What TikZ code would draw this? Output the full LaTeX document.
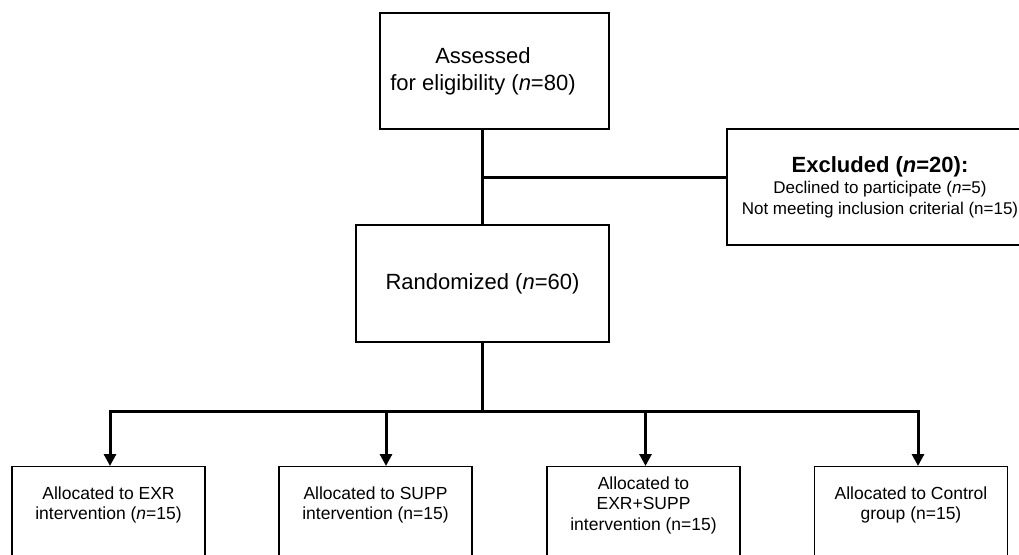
\documentclass[tikz,border=0pt]{standalone}
\usepackage{fontspec}
\setmainfont{Liberation Sans}
\usetikzlibrary{arrows.meta,positioning}

\begin{document}
\begin{tikzpicture}[x=1pt, y=-1pt,
        box/.style={rectangle, draw, line width=1.2pt, inner sep=0pt},
        lowbox/.style={box, minimum width=193pt, minimum height=130pt, anchor=north},
        lowtext/.style={font=\fontsize{17.5}{20.5}\selectfont, align=center, anchor=center, yshift=-39pt},
        mainfont/.style={font=\fontsize{22}{27}\selectfont},
        smallfont/.style={font=\fontsize{17}{21}\selectfont},
        flow/.style={line width=3pt},
        flowarrow/.style={flow, -{Triangle[length=12pt,width=12pt]}}]
        \useasboundingbox (0,0) rectangle (1019,554);

        % screening
        \node [box, minimum width=229pt, minimum height=116pt, label={[mainfont, align=center, xshift=-11.5pt]center:Assessed\\for eligibility (\textit{n}=80)}] (assess) at (494.5,71) {};
        \node [box, minimum width=306pt, minimum height=116pt, smallfont, align=center] (excl) at (880,187) {{\fontsize{22}{26}\selectfont\bfseries Excluded (\textit{n}=20):}\\Declined to participate (\textit{n}=5)\\Not meeting inclusion criterial (n=15)};
        \node [box, minimum width=253pt, minimum height=117pt, mainfont] (rand) at (482.5,283.5) {Randomized (\textit{n}=60)};

        % allocation
        \node [lowbox, label={[lowtext]north:Allocated to EXR\\intervention (\textit{n}=15)}] (exr) at (108.5,466) {};
        \node [lowbox, label={[lowtext]north:Allocated to SUPP\\intervention (n=15)}] (supp) at (375.5,466) {};
        \node [lowbox, label={[lowtext]north:Allocated to\\EXR+SUPP\\intervention (n=15)}] (both) at (643.5,466) {};
        \node [lowbox, label={[lowtext]north:Allocated to Control\\group (n=15)}] (ctrl) at (911,466) {};

        \coordinate (split) at (483,177);
        \draw [flow] (assess.south -| rand.north) -- (rand.north);
        \draw [flow] (split) -- (split -| excl.west);

        \foreach \name/\x in {exr/110, supp/386, both/645.5, ctrl/918} {
            \coordinate (drop-\name) at (\x,411);
            \draw [flowarrow] (drop-\name) -- (drop-\name |- \name.north);
        }
        \draw [flow, line cap=rect] (drop-exr) -- (drop-ctrl);
        \draw [flow] (rand.south) -- (rand.south |- drop-exr);
    \end{tikzpicture}
\end{document}
